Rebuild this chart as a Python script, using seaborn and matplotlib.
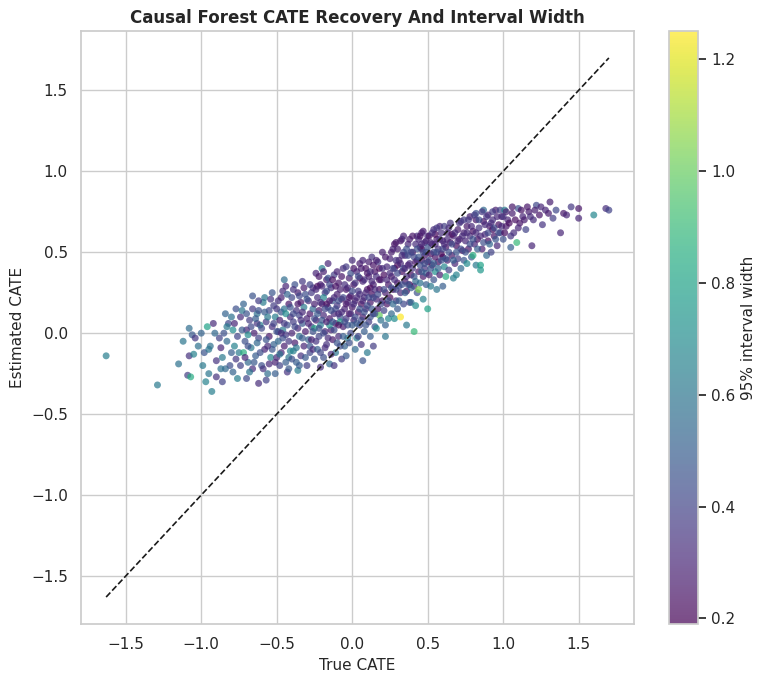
"""
Causal forest CATE recovery plot: estimated vs true CATE, coloured by
the width of the 95% interval.
"""
import numpy as np
import pandas as pd
import matplotlib
matplotlib.use('Agg')
import matplotlib.pyplot as plt
import seaborn as sns

# (true CATE, estimated CATE, 95% interval width), read off the picture by region
left_tail = [
    (-1.63, -0.14, 0.64), (-1.29, -0.32, 0.62), (-1.15, -0.19, 0.58), (-1.08, 0.03, 0.56),
    (-1.06, -0.01, 0.48), (-1.04, -0.03, 0.36), (-1.08, -0.14, 0.34), (-1.05, -0.13, 0.66),
    (-1.09, -0.26, 0.38), (-1.07, -0.27, 0.84), (-0.99, -0.20, 0.62), (-0.96, 0.04, 0.80),
    (-0.92, 0.06, 0.32), (-0.95, -0.25, 0.60), (-0.90, -0.27, 0.34), (-0.93, -0.36, 0.64),
    (-0.85, 0.00, 0.45), (-0.82, 0.06, 0.42), (-0.78, 0.06, 0.30), (-0.90, -0.17, 0.35),
    (-0.86, -0.15, 0.62), (-0.87, -0.09, 0.30), (-0.76, -0.28, 0.64), (-0.83, -0.05, 0.55),
    (-0.80, -0.12, 0.50), (-0.88, -0.03, 0.40), (-0.94, -0.08, 0.58), (-0.81, -0.20, 0.44),
    (-0.77, -0.16, 0.36), (-0.79, 0.02, 0.70), (-0.84, -0.22, 0.55), (-0.98, -0.12, 0.46),
    (-1.12, -0.05, 0.60), (-1.00, 0.00, 0.52), (-0.76, -0.02, 0.40), (-0.78, -0.08, 0.66),
    (-0.80, 0.10, 0.58), (-0.84, 0.12, 0.52), (-0.95, -0.10, 0.60), (-0.91, 0.00, 0.55),
    (-0.87, -0.22, 0.58), (-0.83, 0.04, 0.62), (-0.79, -0.24, 0.52), (-0.77, 0.15, 0.45),
    (-0.86, -0.30, 0.40), (-1.02, -0.08, 0.58), (-0.97, -0.30, 0.66), (-0.75, -0.12, 0.62),
]
core_a = [
    (-0.74, 0.10, 0.33), (-0.73, 0.14, 0.60), (-0.72, -0.12, 0.86), (-0.71, -0.05, 0.45),
    (-0.70, -0.28, 0.42), (-0.70, 0.02, 0.30), (-0.69, -0.18, 0.55), (-0.68, 0.08, 0.38),
    (-0.67, -0.09, 0.62), (-0.66, 0.23, 0.46), (-0.66, -0.22, 0.33), (-0.65, 0.00, 0.28),
    (-0.64, -0.14, 0.50), (-0.63, 0.12, 0.58), (-0.62, -0.31, 0.32), (-0.62, -0.03, 0.40),
    (-0.61, 0.05, 0.66), (-0.60, -0.20, 0.44), (-0.59, 0.19, 0.63), (-0.58, 0.22, 0.60),
    (-0.58, -0.10, 0.30), (-0.57, 0.07, 0.36), (-0.56, -0.25, 0.56), (-0.55, -0.02, 0.26),
    (-0.55, 0.14, 0.42), (-0.54, -0.15, 0.68), (-0.53, 0.25, 0.47), (-0.53, 0.04, 0.33),
    (-0.52, -0.07, 0.52), (-0.51, -0.18, 0.29), (-0.51, 0.10, 0.64), (-0.50, -0.15, 0.31),
    (-0.50, 0.01, 0.45), (-0.52, 0.17, 0.38), (-0.57, -0.29, 0.40), (-0.69, -0.01, 0.70),
    (-0.63, 0.06, 0.35),
]
core_a2 = [
    (-0.74, -0.20, 0.40), (-0.73, 0.02, 0.48), (-0.72, 0.18, 0.52), (-0.71, -0.15, 0.30),
    (-0.70, 0.12, 0.46), (-0.69, -0.08, 0.44), (-0.68, -0.24, 0.60), (-0.67, 0.04, 0.42),
    (-0.66, 0.15, 0.37), (-0.65, -0.18, 0.48), (-0.64, 0.09, 0.50), (-0.63, -0.06, 0.55),
    (-0.62, 0.20, 0.38), (-0.61, -0.12, 0.44), (-0.60, 0.03, 0.42), (-0.59, -0.22, 0.34),
    (-0.58, 0.13, 0.49), (-0.57, -0.04, 0.46), (-0.56, 0.10, 0.62), (-0.55, -0.19, 0.31),
    (-0.54, 0.21, 0.35), (-0.53, -0.10, 0.47), (-0.52, 0.06, 0.40), (-0.51, -0.25, 0.50),
    (-0.50, 0.15, 0.36), (-0.56, -0.08, 0.32), (-0.62, 0.14, 0.45),
]
core_b = [
    (-0.49, 0.20, 0.34), (-0.49, -0.05, 0.55), (-0.48, 0.08, 0.28), (-0.48, -0.20, 0.40),
    (-0.47, 0.13, 0.46), (-0.47, -0.12, 0.30), (-0.46, 0.02, 0.62), (-0.46, 0.26, 0.33),
    (-0.45, -0.08, 0.27), (-0.45, 0.15, 0.58), (-0.44, 0.29, 0.30), (-0.44, -0.01, 0.36),
    (-0.43, 0.05, 0.44), (-0.43, -0.24, 0.35), (-0.42, 0.18, 0.25), (-0.42, -0.15, 0.60),
    (-0.41, 0.10, 0.32), (-0.41, -0.11, 0.66), (-0.40, 0.22, 0.41), (-0.40, 0.00, 0.29),
    (-0.39, -0.11, 0.65), (-0.39, 0.07, 0.38), (-0.38, 0.30, 0.45), (-0.38, -0.06, 0.27),
    (-0.37, 0.14, 0.34), (-0.37, -0.18, 0.50), (-0.36, 0.03, 0.31), (-0.36, 0.25, 0.28),
    (-0.35, -0.02, 0.57), (-0.35, 0.11, 0.40), (-0.34, 0.19, 0.26), (-0.34, -0.14, 0.34),
    (-0.33, 0.06, 0.48), (-0.33, 0.32, 0.36), (-0.32, -0.08, 0.30), (-0.32, 0.16, 0.62),
    (-0.31, 0.01, 0.27), (-0.31, 0.24, 0.44), (-0.30, -0.20, 0.38), (-0.30, 0.09, 0.29),
    (-0.29, -0.04, 0.52), (-0.29, 0.20, 0.33), (-0.28, 0.12, 0.25), (-0.28, -0.12, 0.42),
    (-0.27, 0.04, 0.35), (-0.27, -0.04, 0.28), (-0.26, 0.28, 0.31), (-0.26, 0.15, 0.55),
    (-0.25, -0.16, 0.46), (-0.25, 0.03, 0.82), (-0.44, 0.12, 0.70), (-0.36, -0.23, 0.63),
]
core_b2 = [
    (-0.49, 0.01, 0.43), (-0.48, -0.13, 0.58), (-0.47, 0.22, 0.29), (-0.46, -0.03, 0.44),
    (-0.45, 0.06, 0.37), (-0.44, -0.18, 0.50), (-0.43, 0.24, 0.52), (-0.42, -0.05, 0.36),
    (-0.41, 0.16, 0.45), (-0.40, -0.16, 0.45), (-0.39, 0.27, 0.34), (-0.38, 0.04, 0.41),
    (-0.37, -0.09, 0.60), (-0.36, 0.18, 0.26), (-0.35, -0.20, 0.49), (-0.34, 0.08, 0.33),
    (-0.33, -0.03, 0.48), (-0.32, 0.28, 0.27), (-0.31, -0.15, 0.48), (-0.30, 0.21, 0.45),
    (-0.29, 0.06, 0.30), (-0.28, -0.08, 0.47), (-0.27, 0.25, 0.36), (-0.26, 0.01, 0.44),
    (-0.25, 0.18, 0.28), (-0.47, 0.00, 0.32), (-0.39, 0.12, 0.42), (-0.33, 0.13, 0.31),
    (-0.28, 0.30, 0.40), (-0.45, 0.33, 0.56), (-0.35, 0.23, 0.41), (-0.26, -0.10, 0.31),
    (-0.42, -0.22, 0.48),
]
core_c = [
    (-0.24, 0.37, 0.30), (-0.24, 0.08, 0.27), (-0.23, -0.10, 0.50), (-0.23, 0.22, 0.33),
    (-0.22, 0.14, 0.26), (-0.22, -0.02, 0.40), (-0.21, 0.30, 0.28), (-0.21, 0.05, 0.62),
    (-0.20, 0.40, 0.64), (-0.20, 0.18, 0.25), (-0.19, -0.15, 0.44), (-0.19, 0.11, 0.31),
    (-0.18, 0.25, 0.36), (-0.18, 0.01, 0.29), (-0.17, 0.33, 0.27), (-0.17, -0.07, 0.34),
    (-0.16, 0.43, 0.30), (-0.16, 0.16, 0.42), (-0.15, 0.09, 0.25), (-0.15, -0.19, 0.55),
    (-0.14, 0.28, 0.33), (-0.14, 0.02, 0.28), (-0.13, 0.20, 0.47), (-0.13, -0.04, 0.26),
    (-0.12, 0.12, 0.30), (-0.12, 0.36, 0.38), (-0.11, 0.06, 0.24), (-0.11, -0.12, 0.60),
    (-0.10, 0.24, 0.28), (-0.10, 0.17, 0.35), (-0.09, -0.02, 0.31), (-0.09, 0.31, 0.26),
    (-0.08, 0.10, 0.44), (-0.08, 0.07, 0.80), (-0.07, 0.21, 0.24), (-0.07, -0.16, 0.38),
    (-0.06, 0.40, 0.33), (-0.06, 0.04, 0.27), (-0.05, 0.15, 0.29), (-0.05, -0.08, 0.52),
    (-0.04, 0.27, 0.25), (-0.04, 0.09, 0.36), (-0.03, 0.19, 0.31), (-0.03, -0.03, 0.66),
    (-0.02, 0.34, 0.28), (-0.02, 0.12, 0.23), (-0.01, 0.00, 0.42), (-0.01, 0.23, 0.27),
    (0.00, 0.45, 0.32), (0.00, 0.16, 0.26), (-0.19, 0.22, 0.68), (-0.15, 0.05, 0.72),
    (-0.23, 0.29, 0.22), (-0.12, -0.20, 0.35), (-0.04, -0.14, 0.48), (-0.21, -0.21, 0.32),
    (-0.09, 0.05, 0.23), (-0.17, 0.18, 0.22),
]
core_c2 = [
    (-0.25, 0.09, 0.43), (-0.24, -0.05, 0.35), (-0.24, 0.27, 0.31), (-0.23, 0.12, 0.48),
    (-0.22, 0.35, 0.26), (-0.22, 0.03, 0.44), (-0.21, 0.19, 0.32), (-0.21, -0.12, 0.41),
    (-0.20, 0.08, 0.47), (-0.20, 0.29, 0.30), (-0.19, 0.00, 0.43), (-0.19, 0.38, 0.28),
    (-0.18, 0.15, 0.41), (-0.18, -0.09, 0.33), (-0.17, 0.26, 0.43), (-0.17, 0.07, 0.28),
    (-0.16, 0.34, 0.45), (-0.16, -0.03, 0.32), (-0.15, 0.20, 0.26), (-0.15, 0.30, 0.41),
    (-0.14, 0.14, 0.44), (-0.14, -0.13, 0.30), (-0.13, 0.33, 0.23), (-0.13, 0.07, 0.47),
    (-0.12, 0.22, 0.31), (-0.12, 0.02, 0.42), (-0.11, 0.29, 0.24), (-0.11, 0.15, 0.42),
    (-0.10, -0.06, 0.46), (-0.10, 0.38, 0.29), (-0.09, 0.12, 0.31), (-0.09, 0.20, 0.43),
    (-0.08, 0.27, 0.28), (-0.08, -0.08, 0.44), (-0.07, 0.13, 0.32), (-0.07, 0.35, 0.25),
    (-0.06, 0.22, 0.41), (-0.06, -0.02, 0.50), (-0.05, 0.30, 0.33), (-0.05, 0.07, 0.42),
    (-0.04, 0.18, 0.26), (-0.04, 0.41, 0.37), (-0.03, 0.05, 0.44), (-0.03, 0.28, 0.31),
    (-0.02, 0.22, 0.25), (-0.02, -0.06, 0.45), (-0.01, 0.12, 0.32), (-0.01, 0.37, 0.44),
]
core_d = [
    (0.01, 0.08, 0.30), (0.01, 0.30, 0.25), (0.02, -0.10, 0.55), (0.02, 0.20, 0.28),
    (0.03, 0.38, 0.31), (0.03, -0.03, 0.65), (0.04, 0.13, 0.24), (0.04, 0.26, 0.36),
    (0.05, 0.05, 0.42), (0.05, 0.43, 0.27), (0.06, 0.18, 0.22), (0.06, -0.07, 0.35),
    (0.07, 0.32, 0.29), (0.07, 0.10, 0.26), (0.08, 0.22, 0.33), (0.08, 0.01, 0.50),
    (0.09, 0.40, 0.24), (0.09, 0.15, 0.30), (0.10, 0.27, 0.23), (0.10, -0.12, 0.62),
    (0.11, 0.07, 0.38), (0.11, 0.35, 0.28), (0.12, 0.19, 0.25), (0.12, -0.02, 0.50),
    (0.13, 0.47, 0.34), (0.13, 0.24, 0.22), (0.14, 0.12, 0.31), (0.14, 0.30, 0.27),
    (0.15, 0.04, 0.44), (0.15, 0.38, 0.24), (0.16, 0.21, 0.29), (0.16, 0.03, 0.70),
    (0.17, 0.15, 0.26), (0.17, 0.44, 0.36), (0.18, 0.11, 1.00), (0.18, 0.27, 0.23),
    (0.19, 0.33, 0.30), (0.19, 0.08, 0.58), (0.20, 0.20, 0.25), (0.20, 0.50, 0.28),
    (0.21, 0.14, 0.40), (0.21, 0.36, 0.22), (0.22, 0.25, 0.27), (0.22, -0.02, 0.60),
    (0.23, 0.41, 0.31), (0.23, 0.18, 0.24), (0.24, 0.30, 0.26), (0.24, 0.09, 0.68),
    (0.25, 0.46, 0.29), (0.25, 0.22, 0.23), (0.12, 0.28, 0.21), (0.05, 0.34, 0.21),
    (0.18, 0.40, 0.21), (0.07, -0.17, 0.46), (0.22, 0.05, 0.52), (0.14, -0.08, 0.38),
]
core_d2 = [
    (0.00, 0.26, 0.41), (0.00, 0.05, 0.49), (0.01, 0.18, 0.33), (0.01, 0.40, 0.26),
    (0.02, 0.10, 0.42), (0.02, 0.31, 0.34), (0.03, 0.22, 0.31), (0.03, 0.06, 0.48),
    (0.04, 0.35, 0.43), (0.04, -0.02, 0.40), (0.05, 0.24, 0.32), (0.05, 0.15, 0.45),
    (0.06, 0.40, 0.27), (0.06, 0.08, 0.43), (0.07, 0.20, 0.31), (0.07, 0.45, 0.30),
    (0.08, 0.13, 0.44), (0.08, 0.33, 0.32), (0.09, 0.05, 0.46), (0.09, 0.25, 0.31),
    (0.10, 0.37, 0.25), (0.10, 0.17, 0.43), (0.11, 0.44, 0.28), (0.11, 0.22, 0.41),
    (0.12, 0.10, 0.44), (0.12, 0.38, 0.32), (0.13, 0.15, 0.47), (0.13, 0.32, 0.31),
    (0.14, 0.42, 0.24), (0.14, 0.22, 0.42), (0.15, 0.27, 0.31), (0.15, 0.12, 0.46),
    (0.16, 0.35, 0.33), (0.16, 0.45, 0.28), (0.17, 0.24, 0.42), (0.18, 0.33, 0.24),
    (0.19, 0.18, 0.41), (0.20, 0.40, 0.33), (0.21, 0.27, 0.42), (0.22, 0.47, 0.26),
    (0.23, 0.33, 0.31), (0.24, 0.20, 0.44),
]
core_e = [
    (0.26, 0.35, 0.25), (0.26, 0.12, 0.55), (0.27, 0.52, 0.30), (0.27, 0.27, 0.22),
    (0.28, 0.09, 0.70), (0.28, 0.40, 0.28), (0.29, 0.20, 0.33), (0.29, 0.56, 0.26),
    (0.30, 0.31, 0.23), (0.30, 0.15, 0.48), (0.31, 0.45, 0.27), (0.32, 0.10, 1.25),
    (0.32, 0.25, 0.31), (0.33, 0.38, 0.22), (0.33, 0.58, 0.35), (0.34, 0.18, 0.42),
    (0.35, 0.32, 0.25), (0.35, 0.48, 0.29), (0.36, 0.05, 0.62), (0.36, 0.26, 0.24),
    (0.37, 0.42, 0.27), (0.37, 0.55, 0.31), (0.38, 0.19, 0.38), (0.39, 0.19, 0.55),
    (0.39, 0.36, 0.22), (0.40, 0.50, 0.26), (0.41, 0.01, 0.90), (0.41, 0.29, 0.30),
    (0.42, 0.17, 0.70), (0.42, 0.44, 0.23), (0.43, 0.60, 0.33), (0.43, 0.25, 0.45),
    (0.44, 0.27, 1.05), (0.44, 0.38, 0.25), (0.45, 0.53, 0.28), (0.45, 0.31, 0.58),
    (0.46, 0.45, 0.22), (0.46, 0.62, 0.30), (0.47, 0.35, 0.26), (0.47, 0.21, 0.66),
    (0.48, 0.48, 0.24), (0.48, 0.40, 0.34), (0.49, 0.57, 0.27), (0.49, 0.30, 0.50),
    (0.50, 0.15, 0.80), (0.50, 0.44, 0.23), (0.30, 0.42, 0.21), (0.38, 0.30, 0.21),
    (0.46, 0.52, 0.19), (0.34, 0.50, 0.40),
]
core_e2 = [
    (0.25, 0.37, 0.32), (0.26, 0.28, 0.44), (0.26, 0.50, 0.27), (0.27, 0.40, 0.41),
    (0.27, 0.18, 0.55), (0.28, 0.33, 0.33), (0.28, 0.55, 0.25), (0.29, 0.27, 0.41),
    (0.29, 0.45, 0.34), (0.30, 0.37, 0.42), (0.30, 0.52, 0.28), (0.31, 0.29, 0.43),
    (0.31, 0.20, 0.50), (0.32, 0.43, 0.31), (0.32, 0.57, 0.26), (0.33, 0.30, 0.44),
    (0.33, 0.48, 0.32), (0.34, 0.40, 0.43), (0.34, 0.60, 0.29), (0.35, 0.25, 0.50),
    (0.35, 0.40, 0.31), (0.36, 0.52, 0.44), (0.36, 0.35, 0.32), (0.37, 0.48, 0.43),
    (0.37, 0.30, 0.46), (0.38, 0.58, 0.27), (0.38, 0.43, 0.31), (0.39, 0.50, 0.42),
    (0.39, 0.28, 0.50), (0.40, 0.40, 0.34), (0.40, 0.60, 0.26), (0.41, 0.47, 0.41),
    (0.41, 0.35, 0.45), (0.42, 0.55, 0.33), (0.42, 0.32, 0.55), (0.43, 0.45, 0.32),
    (0.43, 0.52, 0.44), (0.44, 0.58, 0.31), (0.44, 0.47, 0.46), (0.45, 0.42, 0.43),
    (0.45, 0.60, 0.25), (0.46, 0.38, 0.48), (0.46, 0.55, 0.31), (0.47, 0.50, 0.42),
    (0.47, 0.63, 0.27), (0.48, 0.43, 0.44), (0.48, 0.56, 0.31), (0.49, 0.37, 0.50),
    (0.49, 0.50, 0.43), (0.50, 0.60, 0.32), (0.50, 0.53, 0.45),
]
core_f = [
    (0.51, 0.36, 0.28), (0.51, 0.60, 0.25), (0.52, 0.29, 0.62), (0.52, 0.49, 0.22),
    (0.53, 0.55, 0.30), (0.53, 0.42, 0.26), (0.54, 0.64, 0.33), (0.54, 0.33, 0.46),
    (0.55, 0.47, 0.24), (0.55, 0.38, 0.72), (0.56, 0.58, 0.27), (0.56, 0.27, 0.60),
    (0.57, 0.44, 0.23), (0.57, 0.52, 0.35), (0.58, 0.36, 0.28), (0.58, 0.66, 0.30),
    (0.59, 0.49, 0.22), (0.60, 0.29, 0.50), (0.60, 0.57, 0.26), (0.61, 0.41, 0.68),
    (0.62, 0.35, 0.85), (0.62, 0.53, 0.24), (0.63, 0.62, 0.31), (0.63, 0.45, 0.28),
    (0.64, 0.39, 0.40), (0.65, 0.56, 0.23), (0.65, 0.68, 0.34), (0.66, 0.48, 0.26),
    (0.67, 0.34, 0.64), (0.67, 0.60, 0.29), (0.68, 0.43, 0.30), (0.69, 0.36, 0.66),
    (0.69, 0.54, 0.22), (0.70, 0.64, 0.27), (0.70, 0.46, 0.38), (0.71, 0.58, 0.25),
    (0.72, 0.40, 0.55), (0.72, 0.69, 0.33), (0.73, 0.51, 0.24), (0.74, 0.62, 0.28),
    (0.74, 0.45, 0.46), (0.75, 0.57, 0.30), (0.55, 0.61, 0.21), (0.60, 0.47, 0.20),
    (0.66, 0.61, 0.21),
]
core_f2 = [
    (0.51, 0.45, 0.43), (0.52, 0.56, 0.31), (0.52, 0.40, 0.47), (0.53, 0.62, 0.34),
    (0.54, 0.50, 0.42), (0.54, 0.43, 0.50), (0.55, 0.55, 0.31), (0.56, 0.50, 0.44),
    (0.56, 0.65, 0.36), (0.57, 0.40, 0.53), (0.58, 0.58, 0.32), (0.59, 0.45, 0.45),
    (0.59, 0.62, 0.33), (0.60, 0.52, 0.41), (0.61, 0.66, 0.38), (0.61, 0.55, 0.32),
    (0.62, 0.46, 0.46), (0.63, 0.58, 0.31), (0.64, 0.50, 0.44), (0.64, 0.65, 0.32),
    (0.66, 0.55, 0.43), (0.67, 0.45, 0.50), (0.68, 0.62, 0.32), (0.69, 0.50, 0.46),
    (0.70, 0.57, 0.31), (0.71, 0.68, 0.35), (0.72, 0.52, 0.43), (0.73, 0.60, 0.32),
    (0.74, 0.70, 0.37),
]
core_g = [
    (0.76, 0.43, 0.70), (0.76, 0.66, 0.26), (0.77, 0.52, 0.24), (0.78, 0.60, 0.32),
    (0.78, 0.72, 0.28), (0.79, 0.47, 0.48), (0.80, 0.48, 0.86), (0.80, 0.63, 0.23),
    (0.81, 0.55, 0.30), (0.82, 0.70, 0.25), (0.82, 0.42, 0.62), (0.82, 0.74, 0.45),
    (0.83, 0.58, 0.22), (0.84, 0.65, 0.34), (0.85, 0.42, 0.80), (0.85, 0.39, 0.75),
    (0.86, 0.52, 0.27), (0.87, 0.69, 0.24), (0.88, 0.61, 0.31), (0.89, 0.48, 0.55),
    (0.90, 0.73, 0.29), (0.90, 0.57, 0.22), (0.91, 0.66, 0.26), (0.92, 0.50, 0.40),
    (0.93, 0.70, 0.33), (0.94, 0.60, 0.25), (0.95, 0.76, 0.28), (0.96, 0.54, 0.30),
    (0.97, 0.67, 0.23), (0.98, 0.62, 0.36), (0.99, 0.72, 0.27), (1.00, 0.58, 0.44),
    (0.87, 0.76, 0.55), (0.93, 0.64, 0.21),
]
core_g2 = [
    (0.75, 0.50, 0.44), (0.76, 0.62, 0.32), (0.77, 0.70, 0.36), (0.78, 0.55, 0.43),
    (0.79, 0.66, 0.31), (0.80, 0.58, 0.45), (0.81, 0.73, 0.38), (0.82, 0.62, 0.32),
    (0.83, 0.52, 0.50), (0.84, 0.70, 0.43), (0.85, 0.60, 0.31), (0.86, 0.75, 0.36),
    (0.87, 0.56, 0.44), (0.88, 0.67, 0.32), (0.89, 0.72, 0.35), (0.90, 0.62, 0.41),
    (0.91, 0.55, 0.53), (0.92, 0.68, 0.33), (0.93, 0.75, 0.37), (0.94, 0.65, 0.42),
    (0.95, 0.58, 0.46), (0.96, 0.72, 0.31), (0.97, 0.62, 0.44), (0.98, 0.76, 0.40),
    (0.99, 0.66, 0.32), (1.00, 0.72, 0.35),
]
right_tail = [
    (1.01, 0.76, 0.64), (1.02, 0.66, 0.26), (1.03, 0.70, 0.30), (1.05, 0.53, 0.50),
    (1.06, 0.74, 0.28), (1.07, 0.62, 0.33), (1.09, 0.56, 0.90), (1.10, 0.77, 0.45),
    (1.11, 0.68, 0.25), (1.13, 0.72, 0.30), (1.15, 0.64, 0.40), (1.17, 0.75, 0.27),
    (1.19, 0.54, 0.30), (1.20, 0.70, 0.33), (1.22, 0.79, 0.42), (1.24, 0.73, 0.25),
    (1.26, 0.67, 0.35), (1.28, 0.76, 0.30), (1.31, 0.81, 0.28), (1.33, 0.71, 0.38),
    (1.35, 0.76, 0.42), (1.38, 0.62, 0.30), (1.40, 0.74, 0.26), (1.42, 0.73, 0.30),
    (1.45, 0.78, 0.36), (1.50, 0.77, 0.25), (1.50, 0.71, 0.30), (1.60, 0.73, 0.68),
    (1.68, 0.77, 0.33), (1.70, 0.76, 0.40), (1.01, 0.62, 0.23), (1.02, 0.75, 0.28),
    (1.04, 0.68, 0.22), (1.05, 0.60, 0.35), (1.06, 0.78, 0.26), (1.08, 0.70, 0.23),
    (1.10, 0.65, 0.30), (1.12, 0.76, 0.24), (1.14, 0.70, 0.27), (1.16, 0.78, 0.25),
    (1.18, 0.72, 0.32), (1.21, 0.76, 0.28), (1.25, 0.78, 0.30), (1.30, 0.74, 0.27),
]


if __name__ == '__main__':

    sns.set_theme(style='whitegrid')

    groups = [left_tail, core_a, core_a2, core_b, core_b2, core_c, core_c2,
              core_d, core_d2, core_e, core_e2, core_f, core_f2, core_g, core_g2,
              right_tail]
    rows = [p for g in groups for p in g]
    data = pd.DataFrame(rows, columns=['true_cate', 'est_cate', 'width'])

    fig = plt.figure(figsize=(7.67, 6.84), dpi=100)
    ax = fig.add_axes([0.1056, 0.0877, 0.7210, 0.8670])
    cax = fig.add_axes([0.8722, 0.0877, 0.0378, 0.8670])

    norm = plt.Normalize(data['width'].min(), data['width'].max())
    sns.scatterplot(data=data, x='true_cate', y='est_cate', hue='width',
                    hue_norm=norm, palette='viridis', s=25, alpha=0.7,
                    linewidth=0, legend=False, ax=ax)

    lo = min(data['true_cate'].min(), data['est_cate'].min())
    hi = max(data['true_cate'].max(), data['est_cate'].max())
    ax.plot([lo, hi], [lo, hi], 'k--', lw=1.2)

    sm = plt.cm.ScalarMappable(norm=norm, cmap='viridis')
    sm.set_array([])
    cbar = fig.colorbar(sm, cax=cax, alpha=0.7)
    cbar.ax.grid(False)
    cbar.set_label('95% interval width', fontsize=11)
    cbar.ax.tick_params(labelsize=11)

    ax.set_xlabel('True CATE', fontsize=11)
    ax.set_ylabel('Estimated CATE', fontsize=11)
    ax.tick_params(labelsize=11)
    ax.set_title('Causal Forest CATE Recovery And Interval Width',
                 fontweight='bold', fontsize=12)

    fig.savefig('out.png', dpi=100)
